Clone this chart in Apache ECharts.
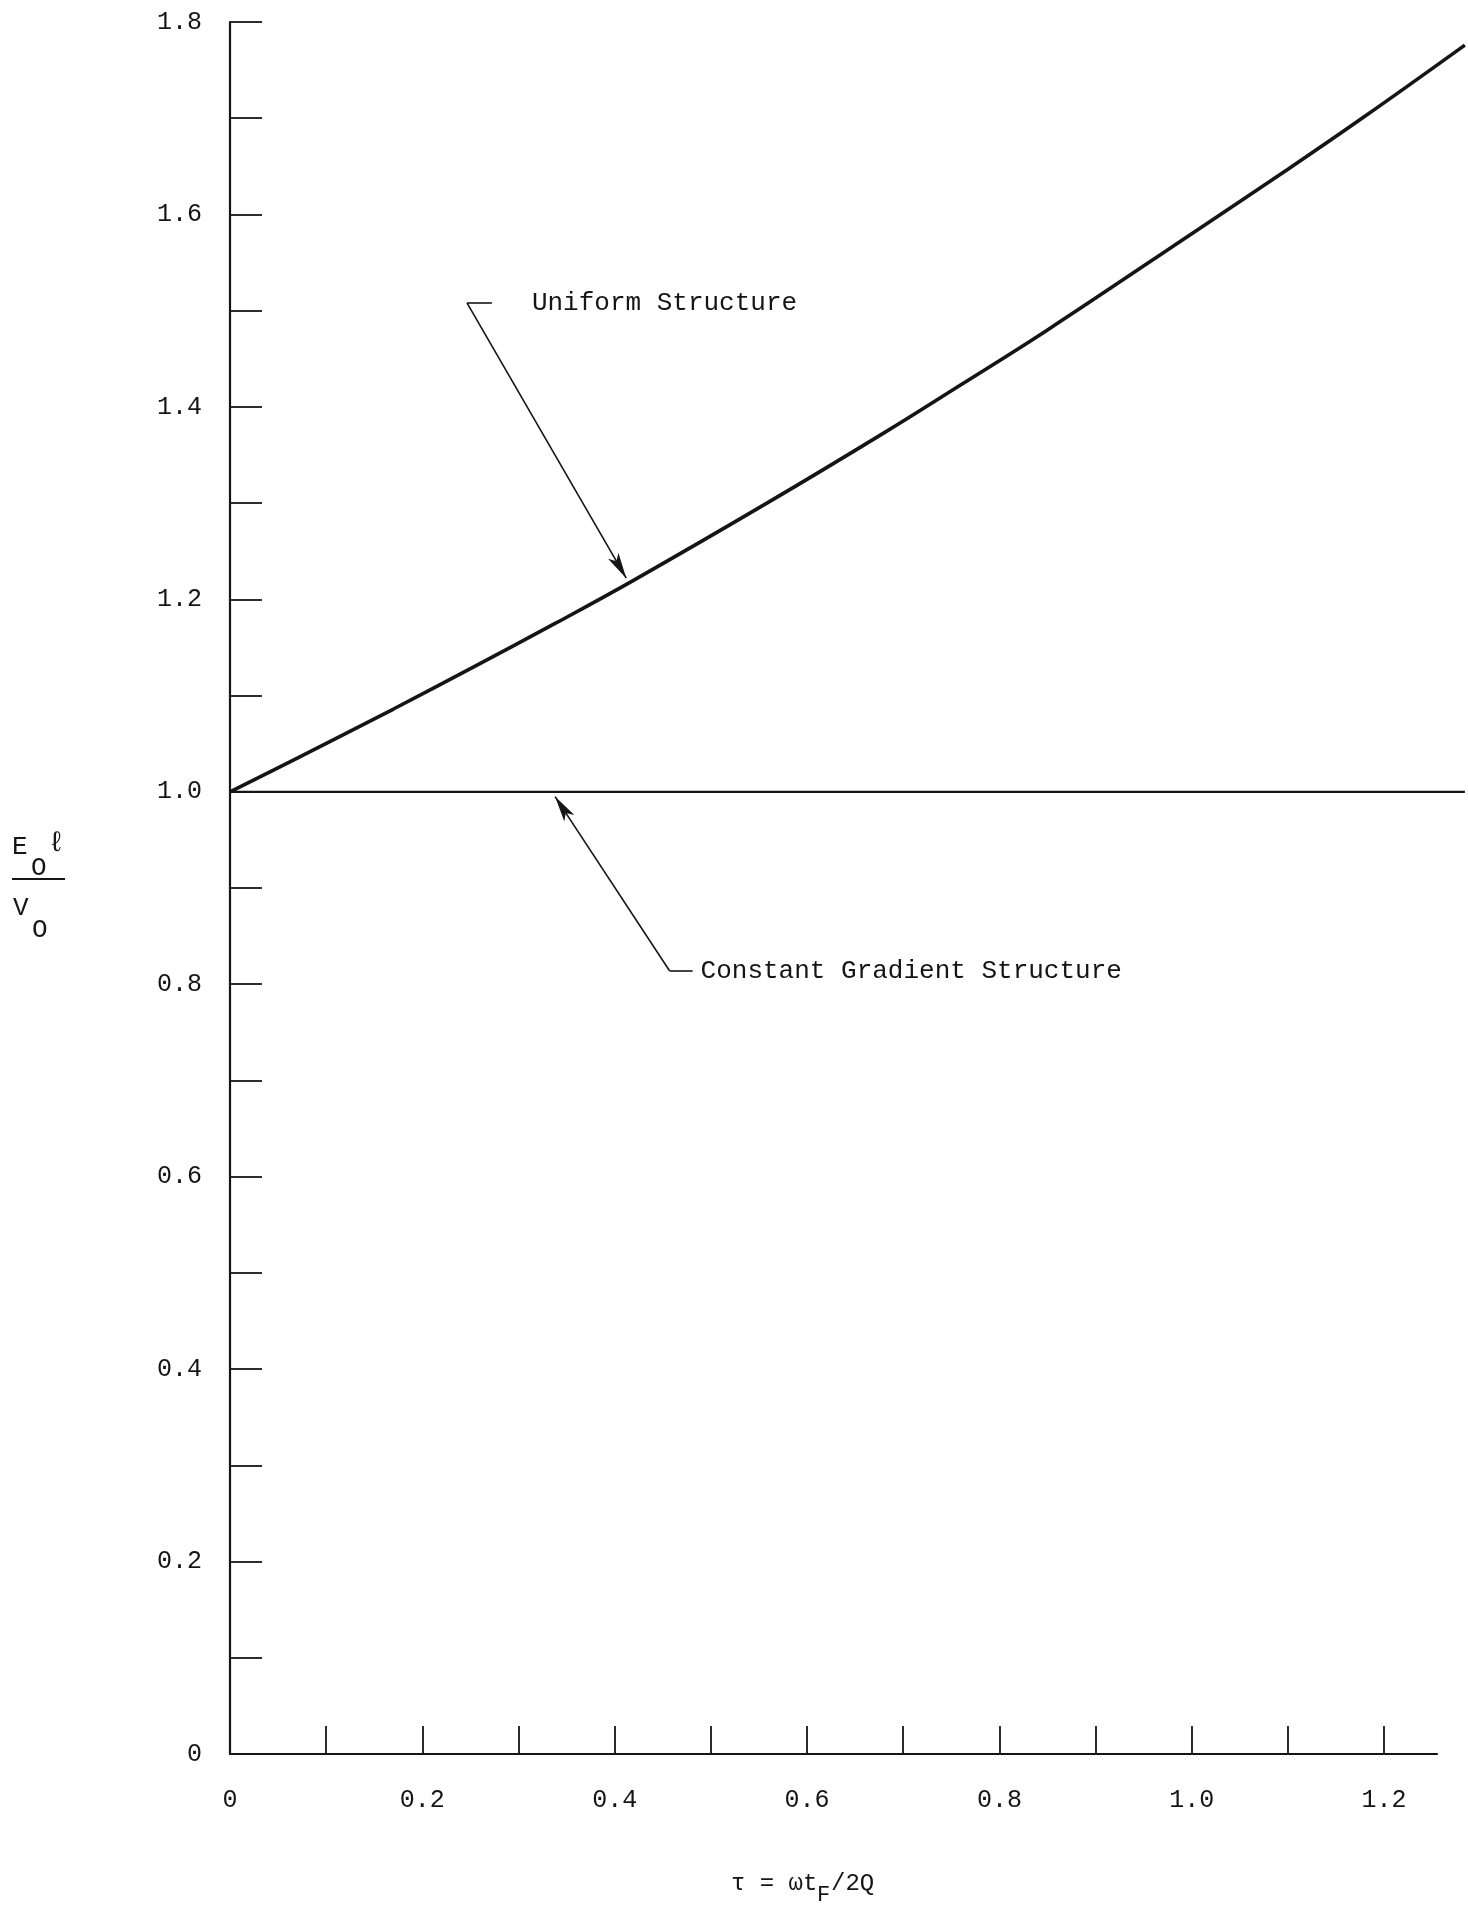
<!DOCTYPE html>
<html>
<head>
<meta charset="utf-8">
<title>Eo·l / Vo versus τ</title>
<script src="https://cdn.jsdelivr.net/npm/echarts@6/dist/echarts.min.js"></script>
<style>
  html, body { margin: 0; padding: 0; background: #ffffff; }
  #chart { width: 1468px; height: 1910px; }
</style>
</head>
<body>
<div id="chart"></div>
<script>
// Normalised attenuation parameter τ = ωt_F / 2Q
const tauUniform = [0, 0.07, 0.17, 0.25, 0.34, 0.42, 0.56, 0.68, 0.76, 0.85, 1.00, 1.10, 1.18, 1.284];
// E0·l / V0 for the uniform (constant impedance) structure
const eUniform   = [1.000, 1.035, 1.086, 1.128, 1.176, 1.220, 1.301, 1.373, 1.423, 1.480, 1.580, 1.647, 1.702, 1.776];

// Constant gradient structure stays at 1.0
const tauConstant = [0, 1.284];
const eConstant   = [1.0, 1.0];

// Axis ticks and labels
const xTickValues  = [0.1, 0.2, 0.3, 0.4, 0.5, 0.6, 0.7, 0.8, 0.9, 1.0, 1.1, 1.2];
const xLabelValues = [0, 0.2, 0.4, 0.6, 0.8, 1.0, 1.2];
const yTickValues  = [0.1, 0.2, 0.3, 0.4, 0.5, 0.6, 0.7, 0.8, 0.9, 1.0, 1.1, 1.2, 1.3, 1.4, 1.5, 1.6, 1.7, 1.8];
const yLabelValues = [0, 0.2, 0.4, 0.6, 0.8, 1.0, 1.2, 1.4, 1.6, 1.8];

// Extent of the drawn axis line and of the plotted curves (curves run past the axis end)
const X_AXIS_END = 1.255;
const X_CURVE_END = 1.284;
const Y_MAX = 1.8;

// Curve annotations: leader bend, short tail and arrow tip in data coordinates
const uniformNote  = { text: 'Uniform Structure', bend: [0.2464, 1.508], tail: [0.2723, 1.508], tip: [0.412, 1.222] };
const constantNote = { text: 'Constant Gradient Structure', bend: [0.457, 0.814], tail: [0.481, 0.814], tip: [0.338, 0.995] };

const INK = '#151515';
const FONT = '"Liberation Mono", "DejaVu Sans Mono", monospace';

const tickFmt = v => (Math.abs(v) < 1e-9 ? '0' : v.toFixed(1));
const pairs = (xs, ys) => xs.map((x, i) => [x, ys[i]]);

const leader = note => [
  { coord: note.bend, symbol: 'none' },
  { coord: note.tip, symbol: 'arrow', symbolSize: [9, 26] }
];
const noteTail = (note, gap) => [
  { coord: note.bend, symbol: 'none' },
  {
    coord: note.tail, symbol: 'none',
    label: {
      show: true, position: 'end', distance: gap, formatter: note.text,
      fontFamily: FONT, fontSize: 26, color: INK
    }
  }
];

// Same pixel scale on both grids: the plotting grid is just wider on the right
const LEFT = 230, TOP = 22, BOTTOM = 156;
const PX_PER_UNIT = 961.75;
const W = 1468;
const axisRight = W - LEFT - X_AXIS_END * PX_PER_UNIT;
const plotRight = W - LEFT - X_CURVE_END * PX_PER_UNIT;

const chart = echarts.init(document.getElementById('chart'), null, { renderer: 'canvas' });

chart.setOption({
  backgroundColor: '#ffffff',
  animation: false,
  grid: [
    { left: LEFT, right: axisRight, top: TOP, bottom: BOTTOM, outerBoundsMode: 'none' },
    { left: LEFT, right: plotRight, top: TOP, bottom: BOTTOM, outerBoundsMode: 'none' }
  ],
  xAxis: [
    {
      gridIndex: 0, type: 'value', min: 0, max: X_AXIS_END, interval: 0.1,
      axisLine: { show: true, lineStyle: { color: INK, width: 2.2 } },
      axisTick: { show: true, inside: true, length: 28, customValues: xTickValues, lineStyle: { color: INK, width: 1.8 } },
      axisLabel: { show: true, customValues: xLabelValues, formatter: tickFmt, margin: 34, fontFamily: FONT, fontSize: 25, color: INK },
      splitLine: { show: false }
    },
    {
      gridIndex: 1, type: 'value', min: 0, max: X_CURVE_END, show: false
    }
  ],
  yAxis: [
    {
      gridIndex: 0, type: 'value', min: 0, max: Y_MAX, interval: 0.1,
      axisLine: { show: true, lineStyle: { color: INK, width: 2.2 } },
      axisTick: { show: true, inside: true, length: 32, customValues: yTickValues, lineStyle: { color: INK, width: 1.8 } },
      axisLabel: { show: true, customValues: yLabelValues, formatter: tickFmt, margin: 28, fontFamily: FONT, fontSize: 25, color: INK },
      splitLine: { show: false }
    },
    {
      gridIndex: 1, type: 'value', min: 0, max: Y_MAX, show: false
    }
  ],
  series: [
    {
      name: 'Uniform Structure',
      type: 'line',
      xAxisIndex: 1, yAxisIndex: 1,
      data: pairs(tauUniform, eUniform),
      smooth: 0.4,
      showSymbol: false,
      clip: false,
      lineStyle: { color: INK, width: 3.6 }
    },
    {
      name: 'Constant Gradient Structure',
      type: 'line',
      xAxisIndex: 1, yAxisIndex: 1,
      data: pairs(tauConstant, eConstant),
      showSymbol: false,
      clip: false,
      lineStyle: { color: INK, width: 2.2 },
      markLine: {
        silent: true,
        animation: false,
        label: { show: false },
        lineStyle: { color: INK, width: 1.6, type: 'solid' },
        emphasis: { disabled: true },
        data: [
          leader(uniformNote),
          noteTail(uniformNote, 40),
          leader(constantNote),
          noteTail(constantNote, 8)
        ]
      }
    }
  ],
  graphic: [
    // vertical axis quantity: E0·l over V0
    { type: 'text', left: 12, top: 834, style: { text: 'E', font: '26px ' + FONT, fill: INK } },
    { type: 'text', left: 31, top: 855, style: { text: 'O', font: '26px ' + FONT, fill: INK } },
    { type: 'text', left: 48, top: 830, style: { text: 'ℓ', font: '28px ' + FONT, fill: INK } },
    { type: 'line', shape: { x1: 12, y1: 879, x2: 65, y2: 879 }, style: { stroke: INK, lineWidth: 1.8 } },
    { type: 'text', left: 13, top: 895, style: { text: 'V', font: '26px ' + FONT, fill: INK } },
    { type: 'text', left: 32, top: 917, style: { text: 'O', font: '26px ' + FONT, fill: INK } },
    // horizontal axis quantity: τ = ωt_F / 2Q
    { type: 'text', left: 731, top: 1872, style: { text: 'τ = ωt', font: '24px ' + FONT, fill: INK } },
    { type: 'text', left: 817, top: 1884, style: { text: 'F', font: '22px ' + FONT, fill: INK } },
    { type: 'text', left: 831, top: 1872, style: { text: '/2Q', font: '24px ' + FONT, fill: INK } }
  ]
});
</script>
</body>
</html>
